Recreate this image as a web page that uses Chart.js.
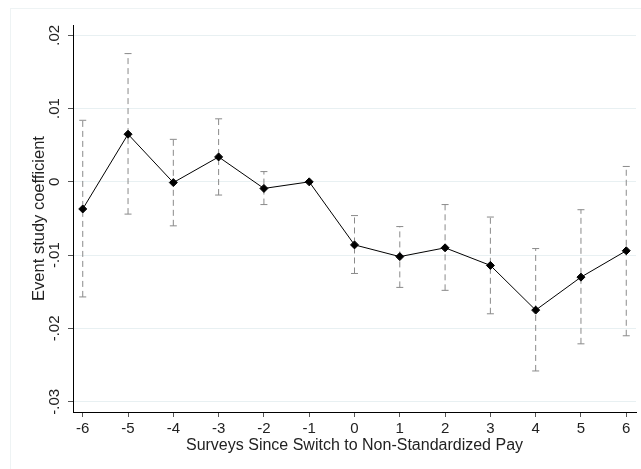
<!DOCTYPE html>
<html>
<head>
<meta charset="utf-8">
<script src="https://cdn.jsdelivr.net/npm/chart.js@4.4.1/dist/chart.umd.min.js"></script>
<style>
  body { margin: 0; background: #fff; }
  #wrap { position: relative; width: 641px; height: 469px; }
  #frame { position: absolute; left: 10px; top: 8px; right: 0; bottom: 0;
           border-left: 1px solid #eef3f4; border-top: 1px solid #eef3f4; }
  canvas { position: absolute; left: 0; top: 0; }
</style>
</head>
<body>
<div id="wrap">
  <div id="frame"></div>
  <canvas id="eventChart" width="641" height="469"></canvas>
</div>
<script>
// Survey periods relative to the switch, and the estimated coefficients
const periods = [-6, -5, -4, -3, -2, -1, 0, 1, 2, 3, 4, 5, 6];
const coef = [-0.0037, 0.0065, -0.0001, 0.0034, -0.0009, 0, -0.0086, -0.0102, -0.0090, -0.0114, -0.0175, -0.0130, -0.0094];
const ciLow = [-0.0157, -0.0044, -0.0060, -0.0018, -0.0031, null, -0.0125, -0.0144, -0.0148, -0.0180, -0.0258, -0.0221, -0.0210];
const ciHigh = [0.0084, 0.0175, 0.0058, 0.0086, 0.0014, null, -0.0046, -0.0061, -0.0031, -0.0048, -0.0091, -0.0038, 0.0021];

const xTicks = [-6, -5, -4, -3, -2, -1, 0, 1, 2, 3, 4, 5, 6];
const yTicks = [-0.03, -0.02, -0.01, 0, 0.01, 0.02];
const yTickLabels = ["-.03", "-.02", "-.01", "0", ".01", ".02"];

const FONT = "'Liberation Sans', Arial, sans-serif";

// one dashed dataset per confidence interval
const ciSets = [];
periods.forEach((p, i) => {
    if (ciLow[i] === null) return;
    ciSets.push({
        type: "line",
        data: [{ x: p, y: ciLow[i] }, { x: p, y: ciHigh[i] }],
        borderColor: "#8a8a8a",
        borderWidth: 1,
        borderDash: [6, 4],
        pointStyle: "line",
        pointRadius: 3.5,
        pointBorderColor: "#8a8a8a",
        pointBorderWidth: 1,
        order: 2
    });
});

// rotated y tick labels, Stata style
const yLabelPlugin = {
    id: "yLabels",
    afterDraw(chart) {
        const ctx = chart.ctx;
        const y = chart.scales.y;
        ctx.save();
        ctx.fillStyle = "#222";
        ctx.font = "15px " + FONT;
        ctx.textAlign = "center";
        ctx.textBaseline = "middle";
        yTicks.forEach((v, i) => {
            ctx.save();
            ctx.translate(55, y.getPixelForValue(v));
            ctx.rotate(-Math.PI / 2);
            ctx.fillText(yTickLabels[i], 0, 0);
            ctx.restore();
        });
        ctx.restore();
    }
};

new Chart(document.getElementById("eventChart"), {
    type: "line",
    data: {
        datasets: [{
            data: periods.map((p, i) => ({ x: p, y: coef[i] })),
            borderColor: "#000",
            borderWidth: 1,
            pointStyle: "rectRot",
            pointRadius: 4,
            pointBackgroundColor: "#000",
            pointBorderColor: "#000",
            order: 1
        }, ...ciSets]
    },
    options: {
        responsive: false,
        animation: false,
        events: [],
        layout: { padding: { top: 25, right: 5, left: 0, bottom: 0 } },
        plugins: {
            legend: { display: false },
            tooltip: { enabled: false }
        },
        scales: {
            x: {
                type: "linear",
                min: -6.215,
                max: 6.215,
                afterBuildTicks: s => { s.ticks = xTicks.map(v => ({ value: v })); },
                afterFit: s => { s.height = 57; },
                ticks: {
                    color: "#222",
                    font: { family: FONT, size: 15 },
                    padding: 3,
                    maxRotation: 0,
                    callback: v => String(v)
                },
                grid: { drawOnChartArea: false, drawTicks: true, tickLength: 5, tickColor: "#555" },
                border: { display: true, color: "#000", width: 1 },
                title: {
                    display: true,
                    text: "Surveys Since Switch to Non-Standardized Pay",
                    color: "#222",
                    font: { family: FONT, size: 16 },
                    padding: { top: 0, bottom: 13.4 }
                }
            },
            y: {
                type: "linear",
                min: -0.0314,
                max: 0.0214,
                afterBuildTicks: s => { s.ticks = yTicks.map(v => ({ value: v })); },
                afterFit: s => { s.width = 73; },
                ticks: { display: false },
                grid: { color: "#e8f0f2", lineWidth: 1, drawTicks: true, tickLength: 5, tickColor: "#555" },
                border: { display: true, color: "#000", width: 1 },
                title: {
                    display: true,
                    text: "Event study coefficient",
                    color: "#222",
                    font: { family: FONT, size: 16.5 },
                    padding: { top: 30, bottom: 0 }
                }
            }
        }
    },
    plugins: [yLabelPlugin]
});
</script>
</body>
</html>
